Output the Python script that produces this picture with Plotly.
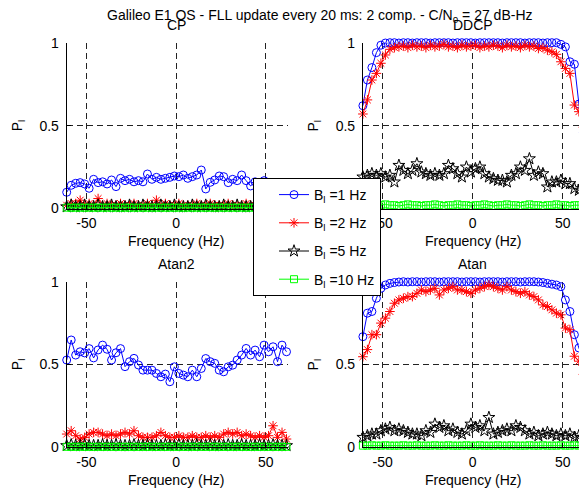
import plotly.graph_objects as go

# Frequency grid (Hz)
freq = [-61.0, -58.5, -56.0, -53.5, -51.0, -48.5, -46.0, -43.5, -41.0, -38.5,
        -36.0, -33.5, -31.0, -28.5, -26.0, -23.5, -21.0, -18.5, -16.0, -13.5,
        -11.0, -8.5, -6.0, -3.5, -1.0, 1.5, 4.0, 6.5, 9.0, 11.5,
        14.0, 16.5, 19.0, 21.5, 24.0, 26.5, 29.0, 31.5, 34.0, 36.5,
        39.0, 41.5, 44.0, 46.5, 49.0, 51.5, 54.0, 56.5, 59.0, 61.5]

bandwidths = ["1", "2", "5", "10"]

# ---- CP ----
cp_1 = [0.098, 0.14, 0.152, 0.156, 0.148, 0.122, 0.176, 0.156, 0.161, 0.148,
        0.172, 0.132, 0.182, 0.168, 0.176, 0.161, 0.168, 0.161, 0.208, 0.176,
        0.188, 0.176, 0.182, 0.188, 0.196, 0.192, 0.202, 0.182, 0.192, 0.202,
        0.232, 0.118, 0.158, 0.172, 0.196, 0.192, 0.156, 0.176, 0.168, 0.202,
        0.168, 0.136, 0.161, 0.152, 0.168, 0.148, 0.156, 0.14, 0.136, 0.108]
cp_2 = [0.02, 0.03, 0.03, 0.05, 0.02, 0.03, 0.02, 0.06, 0.02, 0.03,
        0.02, 0.02, 0.03, 0.02, 0.02, 0.03, 0.02, 0.02, 0.03, 0.02,
        0.05, 0.02, 0.03, 0.02, 0.02, 0.03, 0.02, 0.02, 0.02, 0.03,
        0.02, 0.02, 0.03, 0.02, 0.02, 0.02, 0.03, 0.02, 0.02, 0.02,
        0.03, 0.02, 0.02, 0.03, 0.02, 0.02, 0.04, 0.03, 0.02, 0.03]
cp_5 = [0.01, 0.02, 0.01, 0.01, 0.02, 0.01, 0.01, 0.02, 0.01, 0.01,
        0.02, 0.01, 0.01, 0.01, 0.02, 0.01, 0.01, 0.02, 0.01, 0.01,
        0.01, 0.02, 0.01, 0.01, 0.02, 0.01, 0.01, 0.01, 0.02, 0.01,
        0.01, 0.02, 0.01, 0.01, 0.01, 0.02, 0.01, 0.01, 0.02, 0.01,
        0.01, 0.01, 0.02, 0.01, 0.01, 0.02, 0.01, 0.01, 0.01, 0.01]
cp_10 = [0.005, 0.005, 0.005, 0.005, 0.005, 0.005, 0.005, 0.005, 0.005, 0.005,
         0.005, 0.005, 0.005, 0.005, 0.005, 0.005, 0.005, 0.005, 0.005, 0.005,
         0.005, 0.005, 0.005, 0.005, 0.005, 0.005, 0.005, 0.005, 0.005, 0.005,
         0.005, 0.005, 0.005, 0.005, 0.005, 0.005, 0.005, 0.005, 0.005, 0.005,
         0.005, 0.005, 0.005, 0.005, 0.005, 0.005, 0.005, 0.005, 0.005, 0.005]

# ---- DDCP ----
ddcp_1 = [0.62, 0.775, 0.85, 0.94, 0.985, 0.998, 1.0, 1.0, 0.998, 1.0,
          1.0, 0.998, 1.0, 1.0, 1.0, 0.998, 1.0, 1.0, 1.0, 1.0,
          0.998, 1.0, 1.0, 1.0, 1.0, 0.998, 1.0, 1.0, 1.0, 1.0,
          1.0, 0.998, 1.0, 1.0, 1.0, 1.0, 0.998, 1.0, 1.0, 1.0,
          0.998, 1.0, 1.0, 1.0, 0.99, 0.975, 0.885, 0.87, 0.63, 0.46]
ddcp_2 = [0.57, 0.655, 0.775, 0.815, 0.876, 0.926, 0.96, 0.97, 0.975, 0.98,
          0.97, 0.985, 0.975, 0.98, 0.97, 0.985, 0.975, 0.98, 0.99, 0.975,
          0.98, 0.97, 0.985, 0.975, 0.98, 0.985, 0.97, 0.98, 0.975, 0.985,
          0.98, 0.97, 0.985, 0.975, 0.98, 0.97, 0.985, 0.975, 0.98, 0.965,
          0.97, 0.955, 0.945, 0.93, 0.885, 0.845, 0.815, 0.624, 0.584, 0.49]
ddcp_5 = [0.19, 0.2, 0.21, 0.2, 0.21, 0.19, 0.2, 0.16, 0.26, 0.23,
          0.21, 0.23, 0.27, 0.22, 0.21, 0.2, 0.21, 0.2, 0.21, 0.26,
          0.24, 0.21, 0.19, 0.25, 0.22, 0.24, 0.25, 0.21, 0.19, 0.18,
          0.17, 0.17, 0.16, 0.2, 0.21, 0.25, 0.23, 0.3, 0.2, 0.22,
          0.21, 0.13, 0.16, 0.16, 0.17, 0.15, 0.15, 0.12, 0.11, 0.13]
ddcp_10 = [0.02, 0.025, 0.02, 0.015, 0.02, 0.025, 0.02, 0.02, 0.015, 0.02,
           0.025, 0.02, 0.02, 0.015, 0.02, 0.02, 0.025, 0.02, 0.015, 0.02,
           0.02, 0.025, 0.02, 0.02, 0.015, 0.02, 0.02, 0.025, 0.02, 0.015,
           0.02, 0.02, 0.025, 0.02, 0.02, 0.015, 0.02, 0.025, 0.02, 0.02,
           0.015, 0.02, 0.02, 0.025, 0.02, 0.02, 0.015, 0.02, 0.02, 0.025]

# ---- Atan2 ----
atan2_1 = [0.527, 0.648, 0.557, 0.577, 0.57, 0.596, 0.54, 0.588, 0.617, 0.592,
           0.527, 0.571, 0.596, 0.487, 0.517, 0.537, 0.497, 0.466, 0.466, 0.466,
           0.446, 0.426, 0.442, 0.396, 0.486, 0.446, 0.436, 0.426, 0.466, 0.426,
           0.476, 0.536, 0.517, 0.507, 0.466, 0.456, 0.486, 0.496, 0.527, 0.557,
           0.597, 0.557, 0.587, 0.547, 0.617, 0.577, 0.607, 0.517, 0.617, 0.577]
atan2_2 = [0.08, 0.1, 0.07, 0.05, 0.06, 0.08, 0.09, 0.09, 0.08, 0.07,
           0.08, 0.07, 0.08, 0.09, 0.08, 0.1, 0.07, 0.06, 0.06, 0.06,
           0.07, 0.09, 0.07, 0.06, 0.06, 0.07, 0.06, 0.06, 0.07, 0.06,
           0.06, 0.07, 0.06, 0.07, 0.06, 0.08, 0.09, 0.08, 0.09, 0.07,
           0.08, 0.07, 0.06, 0.07, 0.06, 0.07, 0.13, 0.06, 0.09, 0.05]
atan2_5 = [0.01, 0.015, 0.01, 0.01, 0.015, 0.01, 0.01, 0.01, 0.015, 0.01,
           0.01, 0.015, 0.01, 0.01, 0.01, 0.015, 0.01, 0.01, 0.015, 0.01,
           0.01, 0.01, 0.015, 0.01, 0.01, 0.015, 0.01, 0.01, 0.01, 0.015,
           0.01, 0.01, 0.015, 0.01, 0.01, 0.01, 0.015, 0.01, 0.01, 0.015,
           0.01, 0.01, 0.01, 0.015, 0.01, 0.01, 0.015, 0.01, 0.01, 0.01]
atan2_10 = [0.003, 0.003, 0.003, 0.003, 0.003, 0.003, 0.003, 0.003, 0.003, 0.003,
            0.003, 0.003, 0.003, 0.003, 0.003, 0.003, 0.003, 0.003, 0.003, 0.003,
            0.003, 0.003, 0.003, 0.003, 0.003, 0.003, 0.003, 0.003, 0.003, 0.003,
            0.003, 0.003, 0.003, 0.003, 0.003, 0.003, 0.003, 0.003, 0.003, 0.003,
            0.003, 0.003, 0.003, 0.003, 0.003, 0.003, 0.003, 0.003, 0.003, 0.003]

# ---- Atan ----
atan_1 = [0.668, 0.81, 0.82, 0.9, 0.96, 0.98, 0.99, 0.995, 0.998, 1.0,
          0.998, 1.0, 1.0, 0.998, 1.0, 1.0, 1.0, 0.998, 1.0, 1.0,
          1.0, 1.0, 0.998, 1.0, 1.0, 1.0, 0.998, 1.0, 1.0, 1.0,
          1.0, 0.998, 1.0, 1.0, 1.0, 0.998, 1.0, 1.0, 1.0, 0.998,
          0.995, 0.99, 0.985, 0.98, 0.97, 0.89, 0.82, 0.68, 0.6, 0.537]
atan_2 = [0.547, 0.59, 0.68, 0.68, 0.75, 0.78, 0.82, 0.87, 0.89, 0.9,
          0.91, 0.91, 0.93, 0.95, 0.94, 0.95, 0.96, 0.92, 0.95, 0.96,
          0.97, 0.95, 0.95, 0.94, 0.93, 0.95, 0.96, 0.97, 0.98, 0.97,
          0.96, 0.95, 0.97, 0.95, 0.94, 0.93, 0.94, 0.92, 0.91, 0.89,
          0.86, 0.85, 0.83, 0.81, 0.8, 0.72, 0.71, 0.55, 0.52, 0.44]
atan_5 = [0.06, 0.07, 0.08, 0.08, 0.1, 0.11, 0.12, 0.1, 0.11, 0.1,
          0.09, 0.08, 0.08, 0.07, 0.1, 0.09, 0.14, 0.12, 0.13, 0.1,
          0.11, 0.09, 0.08, 0.1, 0.14, 0.12, 0.13, 0.1, 0.18, 0.08,
          0.09, 0.1, 0.11, 0.1, 0.13, 0.12, 0.1, 0.08, 0.09, 0.07,
          0.08, 0.09, 0.08, 0.07, 0.08, 0.07, 0.08, 0.06, 0.07, 0.06]
atan_10 = [0.01, 0.01, 0.012, 0.01, 0.01, 0.012, 0.01, 0.01, 0.01, 0.012,
           0.01, 0.01, 0.012, 0.01, 0.01, 0.01, 0.012, 0.01, 0.01, 0.012,
           0.01, 0.01, 0.01, 0.012, 0.01, 0.01, 0.012, 0.01, 0.01, 0.01,
           0.012, 0.01, 0.01, 0.012, 0.01, 0.01, 0.01, 0.012, 0.01, 0.01,
           0.012, 0.01, 0.01, 0.01, 0.012, 0.01, 0.01, 0.012, 0.01, 0.01]

panels = [
    ("CP", [cp_1, cp_2, cp_5, cp_10]),
    ("DDCP", [ddcp_1, ddcp_2, ddcp_5, ddcp_10]),
    ("Atan2", [atan2_1, atan2_2, atan2_5, atan2_10]),
    ("Atan", [atan_1, atan_2, atan_5, atan_10]),
]

colors = ["#0000ff", "#ff0000", "#000000", "#00ff00"]
symbols = ["circle-open", "asterisk-open", "star-open", "square-open"]
msizes = [8, 8, 9, 7]

# The page body adds an 8px margin; the figure is sized and placed to fill the window.
OFF = 8
W, H = 587 - OFF, 491 - OFF
FONT = "Liberation Sans, Arial, sans-serif"


def px(xw):
    return (xw - OFF) / W


def py(yw):
    return 1 - (yw - OFF) / H


# panel window-pixel geometry: (left, right, top, bottom)
geo = [(66.7, 288.3, 42.7, 208.5),
       (362.9, 585.2, 42.7, 208.5),
       (66.7, 288.3, 281.7, 447.3),
       (362.9, 585.2, 281.7, 447.3)]

fig = go.Figure()

for p, (name, series) in enumerate(panels):
    ax = "" if p == 0 else str(p + 1)
    for k, ys in enumerate(series):
        fig.add_trace(go.Scatter(
            x=freq, y=ys, mode="lines+markers",
            name="B<sub>l</sub> =" + bandwidths[k] + " Hz",
            legendgroup="g" + bandwidths[k],
            showlegend=(p == 0),
            line=dict(color=colors[k], width=1),
            marker=dict(symbol=symbols[k], size=msizes[k], color=colors[k],
                        line=dict(width=1, color=colors[k])),
            cliponaxis=False,
            xaxis="x" + ax, yaxis="y" + ax,
        ))

layout = dict(
    width=W, height=H,
    margin=dict(l=0, r=0, t=0, b=0, autoexpand=False),
    paper_bgcolor="white", plot_bgcolor="white",
    font=dict(family=FONT, size=14, color="black"),
    showlegend=True,
    legend=dict(
        x=px(253), y=py(178), xanchor="left", yanchor="top",
        bgcolor="white", bordercolor="black", borderwidth=1,
        font=dict(family=FONT, size=14, color="black"),
        tracegroupgap=7, indentation=20,
        entrywidth=74, entrywidthmode="pixels",
    ),
)

annotations = []
for p, (name, series) in enumerate(panels):
    l, r, t, b = geo[p]
    ax = "" if p == 0 else str(p + 1)
    layout["xaxis" + ax] = dict(
        domain=[px(l), px(r)], range=[-61, 62.5], anchor="y" + ax,
        tickvals=[-50, 0, 50], ticktext=["-50", "0", "50"],
        showgrid=True, gridcolor="#222", griddash="6px,4px", gridwidth=1,
        zeroline=False, showline=True, linecolor="black", linewidth=1,
        ticks="inside", ticklen=4, tickcolor="black",
        tickfont=dict(family=FONT, size=14, color="black"),
        ticklabelstandoff=2, automargin=False,
    )
    layout["yaxis" + ax] = dict(
        domain=[py(b), py(t)], range=[0, 1], anchor="x" + ax,
        tickvals=[0, 0.5, 1], ticktext=["0", "0.5", "1"],
        showgrid=True, gridcolor="#222", griddash="6px,4px", gridwidth=1,
        zeroline=False, showline=True, linecolor="black", linewidth=1,
        ticks="inside", ticklen=4, tickcolor="black",
        tickfont=dict(family=FONT, size=14, color="black"),
        ticklabelstandoff=4, automargin=False,
    )
    cx = l + (0 - (-61)) / 123.5 * (r - l)
    annotations.append(dict(text=name, x=px(cx), y=py(t - 17.5),
                            xref="paper", yref="paper", showarrow=False,
                            xanchor="center", yanchor="middle",
                            font=dict(family=FONT, size=14, color="black")))
    annotations.append(dict(text="Frequency (Hz)", x=px(cx), y=py(b + 32.5),
                            xref="paper", yref="paper", showarrow=False,
                            xanchor="center", yanchor="middle",
                            font=dict(family=FONT, size=14, color="black")))
    annotations.append(dict(text="P<sub>l</sub>", x=px(l - 49), y=py((t + b) / 2),
                            xref="paper", yref="paper", showarrow=False,
                            textangle=-90, xanchor="center", yanchor="middle",
                            font=dict(family=FONT, size=14, color="black")))

annotations.append(dict(
    text="Galileo E1 OS - FLL update every 20 ms: 2 comp. - C/N<sub>0</sub> = 27 dB-Hz",
    x=px(320), y=py(16), xref="paper", yref="paper", showarrow=False,
    xanchor="center", yanchor="middle",
    font=dict(family=FONT, size=14, color="black")))

layout["annotations"] = annotations
fig.update_layout(**layout)
fig.write_html("out.html")
